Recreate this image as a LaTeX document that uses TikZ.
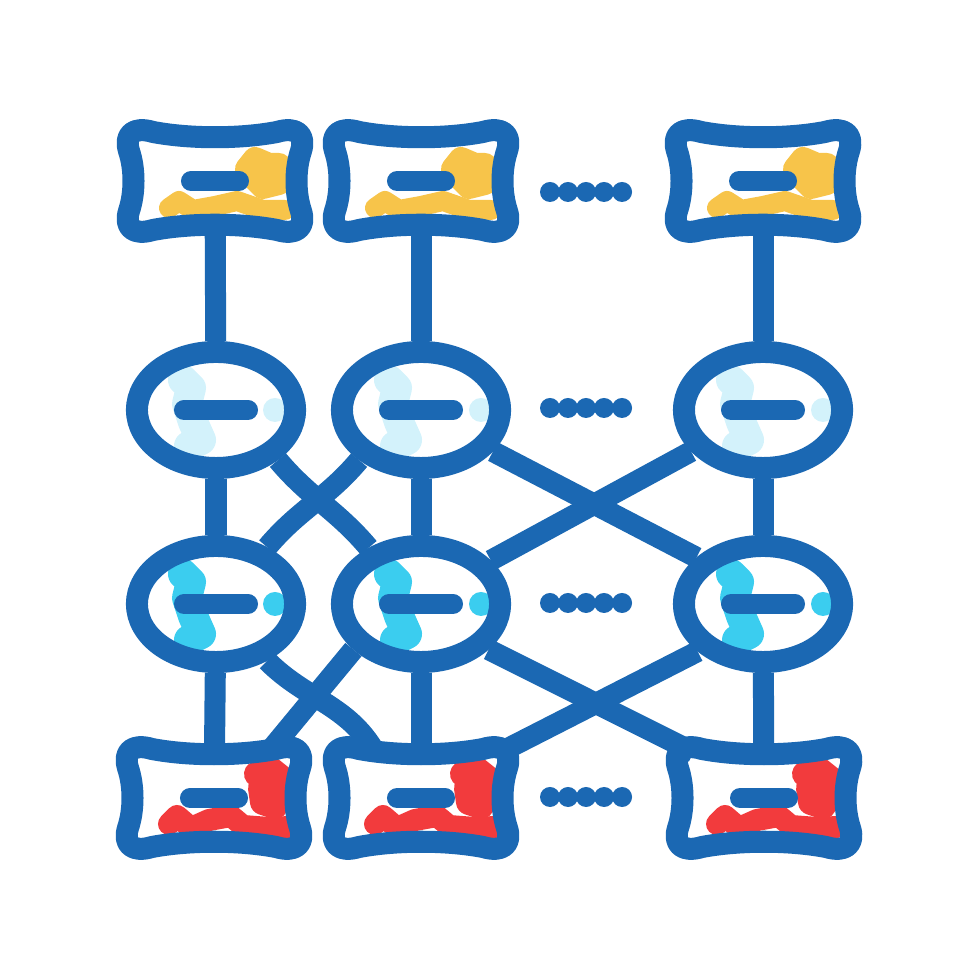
\documentclass[tikz,border=0pt]{standalone}
\usetikzlibrary{shapes.geometric}
\definecolor{inkblue}{HTML}{1B68B3}
\definecolor{cellyellow}{HTML}{F7C44A}
\definecolor{cellred}{HTML}{F23B3D}
\definecolor{paleblue}{HTML}{D3F2FB}
\definecolor{cellcyan}{HTML}{3BCDEF}
\tikzset{
cell/.style={ % ellipse nodes
ellipse, draw=inkblue, line width=0.22cm,
minimum width=1.58cm, minimum height=1.16cm, inner sep=0pt},
slot/.style={ % box nodes, outline drawn after
rectangle, minimum width=1.72cm, minimum height=0.9cm, inner sep=0pt},
link/.style={draw=inkblue, line width=0.21cm},
boneline/.style={draw=inkblue, line width=0.22cm, line join=round},
bar/.style={draw=inkblue, line width=0.2cm, line cap=round},
dotrow/.style={draw=inkblue, line width=0.2cm, line cap=round,
dash pattern=on 0pt off 0.18cm},
blob/.style={line width=0.24cm, line cap=round, line join=round}}

\begin{document}
\begin{tikzpicture}[x=0.01cm, y=0.01cm]
\useasboundingbox (0,0) rectangle (980,980);
% colour patches
\foreach \x in {215,421,763} {
\draw[blob, cellyellow, shift={(\x,799)}] (32,12) -- (40,22) -- (54,16) -- (64,16) -- (64,-2) -- (48,-6) -- (38,4);
\draw[blob, cellyellow, line width=0.2cm, shift={(\x,799)}] (-46,-27) -- (-36,-20) -- (-22,-29) -- (0,-25) -- (22,-20) -- (48,-29) -- (70,-29);
\draw[blob, paleblue, line width=0.3cm, shift={(\x,570)}] (-32,30) -- (-24,22) -- (-28,6) -- (-22,-12) -- (-14,-30) -- (-26,-36);
\fill[paleblue, shift={(\x,570)}] (60,0) circle[radius=0.12cm];
\draw[blob, cellcyan, line width=0.3cm, shift={(\x,376)}] (-32,30) -- (-24,22) -- (-28,6) -- (-22,-12) -- (-14,-30) -- (-26,-36);
\fill[cellcyan, shift={(\x,376)}] (60,0) circle[radius=0.12cm];
\draw[blob, cellred, line width=0.26cm, shift={(\x,182)}] (42,24) -- (56,28) -- (66,20) -- (66,4) -- (60,-8) -- (48,-4) -- (46,10);
\draw[blob, cellred, line width=0.22cm, shift={(\x,182)}] (-46,-26) -- (-38,-18) -- (-24,-30) -- (-6,-22) -- (16,-18) -- (28,-28) -- (54,-30) -- (74,-29);
}
% nodes
\node[slot] (t1) at (215,799) {};
\node[slot] (t2) at (421,799) {};
\node[slot] (t3) at (763,799) {};
\node[cell] (m1) at (216,570) {};
\node[cell] (m2) at (421,570) {};
\node[cell] (m3) at (763,570) {};
\node[cell] (n1) at (216,376) {};
\node[cell] (n2) at (421,376) {};
\node[cell] (n3) at (763,376) {};
\node[slot] (b1) at (214,182) {};
\node[slot] (b2) at (421,182) {};
\node[slot] (b3) at (764,182) {};
\foreach \s in {t1,t2,t3,b1,b2,b3}
\draw[boneline, shift={(\s)}] (-62,49) .. controls (-25,42) and (25,42) .. (62,49)
.. controls (82,55) and (91,46) .. (86,30)
.. controls (80,12) and (80,-12) .. (86,-30)
.. controls (91,-46) and (82,-55) .. (62,-49)
.. controls (25,-42) and (-25,-42) .. (-62,-49)
.. controls (-82,-55) and (-91,-46) .. (-86,-30)
.. controls (-80,-12) and (-80,12) .. (-86,30)
.. controls (-91,46) and (-82,55) .. (-62,49) -- cycle;
% links
\draw[link] (t1) -- (m1);
\draw[link] (t2) -- (m2);
\draw[link] (t3) -- (m3);
\draw[link] (m1) -- (n1);
\draw[link] (m2) -- (n2);
\draw[link] (m3) -- (n3);
\draw[link] (n1) -- (b1);
\draw[link] (n2) -- (b2);
\draw[link] (n3) -- (b3);
\draw[link] (m1.-39) to[out=-50, in=130] (n2.133);
\draw[link] (m2.-141) to[out=-130, in=50] (n1.48);
\draw[link] (m2.-30) -- (n3.145);
\draw[link] (m3.-150) -- (n2.32);
\draw[link] (n1.-48) to[out=-45, in=120] (b2.135);
\draw[link] (n2.-146) -- (b1.40);
\draw[link] (n2.-34) -- (b3.147);
\draw[link] (n3.-144) -- (b2.30);
% inner bars
\foreach \s in {t1,t2,t3,b1,b2,b3}
\draw[bar] ([xshift=-0.24cm]\s.center) -- ([xshift=0.24cm]\s.center);
\foreach \s in {m1,m2,m3,n1,n2,n3}
\draw[bar] ([xshift=-0.32cm]\s.center) -- ([xshift=0.32cm]\s.center);
% dots between columns
\foreach \y in {788,572,377,183}
\draw[dotrow] (550,\y) -- (623,\y);
\end{tikzpicture}
\end{document}
